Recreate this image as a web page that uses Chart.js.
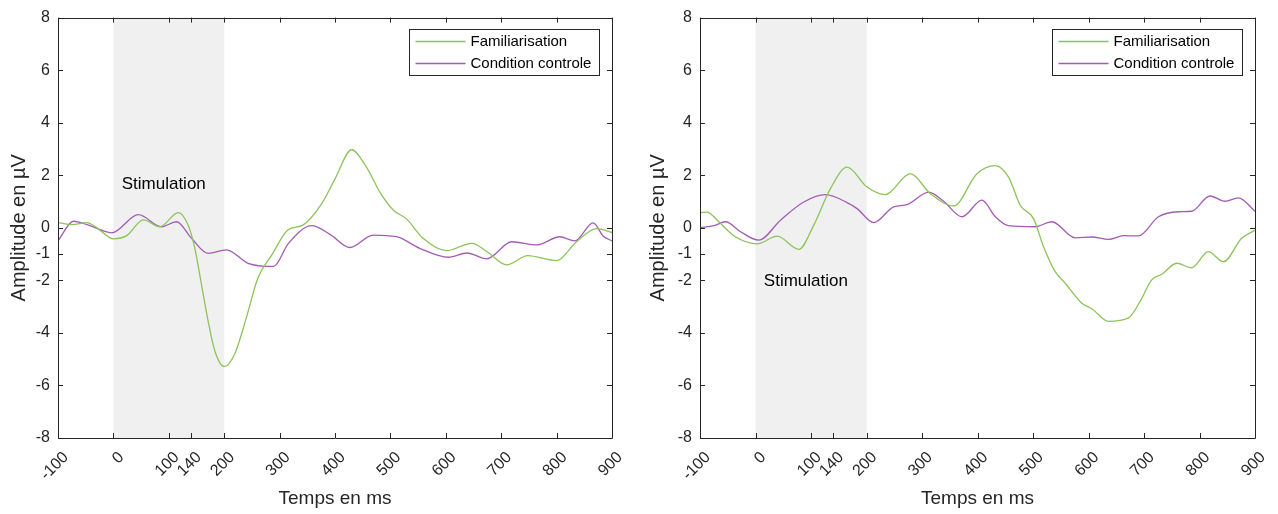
<!DOCTYPE html>
<html>
<head>
<meta charset="utf-8">
<script src="https://cdn.jsdelivr.net/npm/chart.js@4"></script>
<style>
  body { margin: 0; background: #fff; }
  .panel { position: absolute; top: 0; width: 639px; height: 514px; }
</style>
</head>
<body>
<div class="panel" style="left:0"><canvas id="left"></canvas></div>
<div class="panel" style="left:639px"><canvas id="right"></canvas></div>
<script>
// tick labels
const xTicks = [-100, 0, 100, 140, 200, 300, 400, 500, 600, 700, 800, 900];
const yTicks = [-8, -6, -4, -2, -1, 0, 2, 4, 6, 8];
const seriesNames = ['Familiarisation', 'Condition controle'];

// panel 1
const leftGreenT = [-100,-75,-48,-28,0,24,54,84,117,135,147,159,171,183,200,219,240,261,286,315,342,376,400,430,457,481,505,529,559,601,647,674,710,748,800,836,872,900];
const leftGreenV = [0.2,0.12,0.2,-0.03,-0.42,-0.3,0.3,0.04,0.58,0.1,-0.78,-2.16,-3.55,-4.68,-5.28,-4.8,-3.42,-1.9,-1.03,-0.08,0.1,0.92,1.86,2.97,2.3,1.36,0.68,0.34,-0.4,-0.87,-0.59,-0.9,-1.41,-1.06,-1.25,-0.53,-0.03,-0.18];
const leftPurpleT = [-100,-72,-45,-3,45,87,114,141,171,204,243,289,316,358,391,427,469,511,553,605,638,674,719,764,806,833,866,884,900];
const leftPurpleV = [-0.5,0.25,0.1,-0.19,0.5,0.04,0.23,-0.4,-0.97,-0.84,-1.35,-1.47,-0.59,0.08,-0.25,-0.75,-0.28,-0.34,-0.78,-1.12,-0.96,-1.18,-0.53,-0.65,-0.34,-0.5,0.19,-0.31,-0.5];

// panel 2
const rightGreenT = [-100,-87,-69,-39,3,39,78,105,135,165,201,234,279,315,357,399,432,456,477,501,519,540,558,588,606,636,672,693,714,732,759,786,816,843,876,900];
const rightGreenV = [0.58,0.6,0.29,-0.3,-0.61,-0.32,-0.82,0.1,1.49,2.31,1.55,1.26,2.06,1.3,0.83,2.06,2.37,1.93,0.86,0.35,-0.72,-1.67,-2.11,-2.87,-3.08,-3.56,-3.43,-2.8,-1.98,-1.77,-1.35,-1.52,-0.91,-1.29,-0.4,-0.09];
const rightPurpleT = [-100,-75,-54,-27,6,45,87,126,165,183,213,249,273,312,339,372,408,432,456,504,534,576,606,636,663,690,726,762,786,819,846,870,900];
const rightPurpleV = [0,0.08,0.23,-0.15,-0.47,0.29,0.98,1.26,0.96,0.73,0.2,0.8,0.88,1.36,1.01,0.42,1.05,0.42,0.08,0.04,0.23,-0.38,-0.35,-0.44,-0.3,-0.31,0.42,0.61,0.63,1.21,1.01,1.14,0.63];

const stimWindow = [0, 200];

const FONT = '"Liberation Sans", Arial, sans-serif';
const AXIS = '#262626';
const GREEN = '#8dc35a';
const PURPLE = '#a35cb5';

const toPts = (t, v) => t.map((x, i) => ({ x: x, y: v[i] }));

// matlab-like decorations: shaded window, box, inward ticks, legend
const matlabLook = {
  id: 'matlabLook',
  beforeDatasetsDraw(chart, args, opts) {
    const { ctx, chartArea: a, scales: { x } } = chart;
    ctx.save();
    ctx.fillStyle = '#f0f0f0';
    const x0 = x.getPixelForValue(stimWindow[0]);
    const x1 = x.getPixelForValue(stimWindow[1]);
    ctx.fillRect(x0, a.top, x1 - x0, a.bottom - a.top);
    ctx.restore();
  },
  afterDatasetsDraw(chart, args, opts) {
    const { ctx, chartArea: a, scales: { x, y } } = chart;
    ctx.save();
    // label in the shaded window
    ctx.fillStyle = '#000';
    ctx.font = '17px ' + FONT;
    ctx.textBaseline = 'middle';
    ctx.fillText('Stimulation', x.getPixelForValue(opts.stimX), y.getPixelForValue(opts.stimY));

    // box and ticks
    ctx.strokeStyle = AXIS;
    ctx.lineWidth = 1;
    ctx.beginPath();
    ctx.rect(Math.round(a.left) + 0.5, Math.round(a.top) + 0.5, Math.round(a.right - a.left), Math.round(a.bottom - a.top));
    const tl = 5;
    x.ticks.forEach(t => {
      const px = Math.round(x.getPixelForValue(t.value)) + 0.5;
      ctx.moveTo(px, a.bottom); ctx.lineTo(px, a.bottom - tl);
      ctx.moveTo(px, a.top); ctx.lineTo(px, a.top + tl);
    });
    y.ticks.forEach(t => {
      const py = Math.round(y.getPixelForValue(t.value)) + 0.5;
      ctx.moveTo(a.left, py); ctx.lineTo(a.left + tl, py);
      ctx.moveTo(a.right, py); ctx.lineTo(a.right - tl, py);
    });
    ctx.stroke();

    // legend
    const w = 190, h = 46;
    const lx = Math.round(a.right - 13 - w) + 0.5, ly = Math.round(a.top + 11) + 0.5;
    ctx.fillStyle = '#fff';
    ctx.fillRect(lx, ly, w, h);
    ctx.strokeStyle = AXIS;
    ctx.strokeRect(lx, ly, w, h);
    ctx.font = '15px ' + FONT;
    chart.data.datasets.forEach((ds, i) => {
      const ry = ly + 12 + i * 22;
      ctx.strokeStyle = ds.borderColor;
      ctx.lineWidth = 1.3;
      ctx.beginPath();
      ctx.moveTo(lx + 6, ry); ctx.lineTo(lx + 56, ry);
      ctx.stroke();
      ctx.fillStyle = '#000';
      ctx.fillText(ds.label, lx + 61, ry);
    });
    ctx.restore();
  }
};

function makePanel(id, green, purple, stim, yWidth, rightPad) {
  new Chart(document.getElementById(id), {
    type: 'line',
    data: {
      datasets: [
        { label: seriesNames[0], data: green, borderColor: GREEN, borderWidth: 1.3, pointRadius: 0, cubicInterpolationMode: 'monotone' },
        { label: seriesNames[1], data: purple, borderColor: PURPLE, borderWidth: 1.3, pointRadius: 0, cubicInterpolationMode: 'monotone' }
      ]
    },
    options: {
      responsive: true,
      maintainAspectRatio: false,
      animation: false,
      layout: { padding: { top: 15, right: rightPad, left: 0, bottom: 0 } },
      plugins: {
        legend: { display: false },
        tooltip: { enabled: false },
        matlabLook: { stimX: stim[0], stimY: stim[1] }
      },
      scales: {
        x: {
          type: 'linear', min: -100, max: 900,
          afterBuildTicks: s => { s.ticks = xTicks.map(v => ({ value: v })); },
          afterFit: s => { s.height = 76; s.paddingLeft = 0; s.paddingRight = 0; },
          grid: { display: false, drawTicks: false },
          border: { display: false },
          ticks: { autoSkip: false, minRotation: 45, maxRotation: 45, padding: 10, labelOffset: 8, color: AXIS, font: { family: FONT, size: 16 } },
          title: { display: true, text: 'Temps en ms', color: AXIS, font: { family: FONT, size: 19 }, padding: { top: 0, bottom: 4 } }
        },
        y: {
          min: -8, max: 8,
          afterBuildTicks: s => { s.ticks = yTicks.map(v => ({ value: v })); },
          afterFit: s => { s.width = yWidth; },
          grid: { display: false, drawTicks: false },
          border: { display: false },
          ticks: { padding: 8, color: AXIS, font: { family: FONT, size: 16 } },
          title: { display: true, text: 'Amplitude en µV', color: AXIS, font: { family: FONT, size: 20 }, padding: { top: 7, bottom: 0 } }
        }
      }
    },
    plugins: [matlabLook]
  });
}

makePanel('left', toPts(leftGreenT, leftGreenV), toPts(leftPurpleT, leftPurpleV), [15, 1.67], 58, 27);
makePanel('right', toPts(rightGreenT, rightGreenV), toPts(rightPurpleT, rightPurpleV), [15, -2.05], 61, 23);
</script>
</body>
</html>
